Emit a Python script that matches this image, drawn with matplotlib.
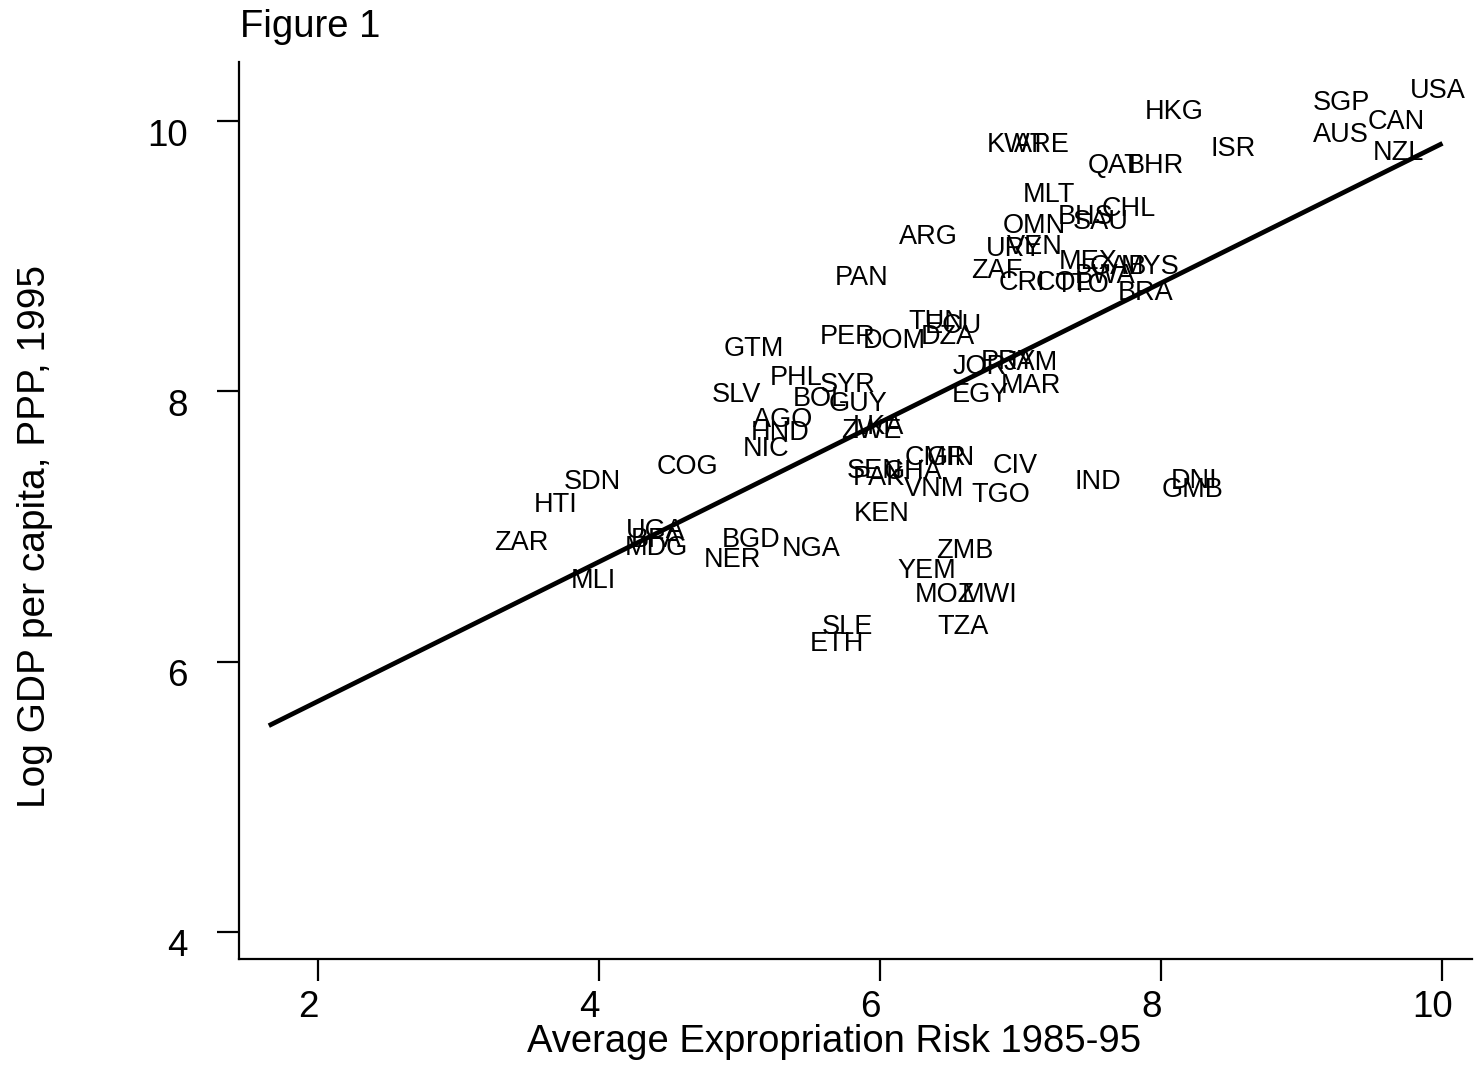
import matplotlib
matplotlib.use("Agg")
import matplotlib.pyplot as plt
import matplotlib.transforms as mtransforms
import numpy as np

plt.rcParams['font.family'] = ['Liberation Sans', 'DejaVu Sans']

# ---- data ----
codes = ["USA", "SGP", "CAN", "AUS", "NZL", "HKG", "ISR", "KWT", "ARE", "QAT",
         "BHR", "MLT", "CHL", "BHS", "SAU", "OMN", "URY", "VEN", "MEX", "ZAF",
         "GAB", "MYS", "BWA", "CRI", "COL", "TTO", "BRA", "ARG", "PAN", "TUN",
         "ECU", "DZA", "DOM", "PER", "JOR", "PRY", "JAM", "MAR", "EGY", "GTM",
         "PHL", "SYR", "SLV", "BOL", "GUY", "AGO", "HND", "NIC", "LKA", "ZWE",
         "COG", "SDN", "HTI", "ZAR", "UGA", "BFA", "MDG", "MLI", "BGD", "NER",
         "NGA", "SLE", "ETH", "KEN", "ZMB", "YEM", "MOZ", "MWI", "TZA", "CMR",
         "GIN", "CIV", "TGO", "VNM", "SEN", "PAK", "GHA", "IND", "DNI", "GMB"]
avexpr = [9.97, 9.28, 9.67, 9.28, 9.69, 8.09, 8.51, 6.97, 7.15, 7.67,
          7.96, 7.20, 7.77, 7.46, 7.57, 7.10, 6.95, 7.10, 7.48, 6.83,
          7.69, 7.92, 7.60, 7.01, 7.30, 7.44, 7.89, 6.34, 5.87, 6.40,
          6.52, 6.48, 6.10, 5.77, 6.71, 6.91, 7.07, 7.07, 6.71, 5.10,
          5.40, 5.77, 4.98, 5.57, 5.84, 5.31, 5.29, 5.19, 5.99, 5.94,
          4.63, 3.95, 3.69, 3.45, 4.40, 4.41, 4.41, 3.96, 5.08, 4.95,
          5.51, 5.77, 5.69, 6.01, 6.60, 6.33, 6.46, 6.78, 6.59, 6.39,
          6.50, 6.96, 6.86, 6.38, 5.96, 5.99, 6.23, 7.55, 8.23, 8.22]
logpgp95 = [10.22, 10.13, 9.99, 9.90, 9.76, 10.07, 9.79, 9.82, 9.82, 9.67,
            9.67, 9.45, 9.35, 9.29, 9.25, 9.22, 9.05, 9.07, 8.96, 8.89,
            8.92, 8.92, 8.85, 8.80, 8.80, 8.79, 8.73, 9.14, 8.84, 8.51,
            8.48, 8.40, 8.37, 8.40, 8.18, 8.22, 8.21, 8.04, 7.97, 8.31,
            8.10, 8.05, 7.97, 7.94, 7.91, 7.79, 7.69, 7.57, 7.74, 7.71,
            7.44, 7.33, 7.16, 6.88, 6.97, 6.90, 6.84, 6.60, 6.90, 6.75,
            6.83, 6.26, 6.13, 7.09, 6.82, 6.67, 6.49, 6.49, 6.26, 7.51,
            7.51, 7.45, 7.23, 7.28, 7.41, 7.36, 7.40, 7.33, 7.34, 7.27]

# fitted line
fit_intercept = 4.675
fit_slope = 0.516
fit_range = [1.65, 10.0]

xticks = [2, 4, 6, 8, 10]
yticks = [4, 6, 8, 10]

# ---- figure ----
W, H = 1479, 1067
fig = plt.figure(figsize=(W / 100, H / 100), dpi=100)
ax = fig.add_axes([239 / W, 1 - 959 / H, (1472 - 239) / W, (959 - 62) / H])
ax.set_xlim(1.438, 10.21)
ax.set_ylim(3.80, 10.437)

for c, xv, yv in zip(codes, avexpr, logpgp95):
    ax.text(xv, yv, c, ha='center', va='center', fontsize=19.5, color='black')

fx = np.array(fit_range)
ax.plot(fx, fit_intercept + fit_slope * fx, color='black', lw=3.4,
        solid_capstyle='butt')

for s in ['top', 'right']:
    ax.spines[s].set_visible(False)
for s in ['left', 'bottom']:
    ax.spines[s].set_linewidth(1.6)

ax.set_xticks(xticks)
ax.set_yticks(yticks)
ax.set_xticklabels([str(t) for t in xticks])
ax.set_yticklabels([str(t) for t in yticks])
ax.tick_params(axis='both', direction='out', length=16, width=1.6,
               labelsize=26.5, colors='black')
ax.tick_params(axis='x', pad=6)
ax.tick_params(axis='y', pad=21)

# Stata-like label offsets
dx = mtransforms.ScaledTranslation(-10 / 100, 0, fig.dpi_scale_trans)
for lab in ax.get_xticklabels():
    lab.set_transform(lab.get_transform() + dx)
dy = mtransforms.ScaledTranslation(0, -11 / 100, fig.dpi_scale_trans)
for lab in ax.get_yticklabels():
    lab.set_transform(lab.get_transform() + dy)

fig.text(834 / W, 1 - 1042 / H, "Average Expropriation Risk 1985-95",
         ha='center', va='center', fontsize=27.5)
fig.text(35 / W, 1 - 537 / H, "Log GDP per capita, PPP, 1995",
         ha='center', va='center', rotation=90, fontsize=28)
fig.text(240 / W, 1 - 27 / H, "Figure 1", ha='left', va='center',
         fontsize=27.5)

fig.savefig("out.png", dpi=100, facecolor='white')
